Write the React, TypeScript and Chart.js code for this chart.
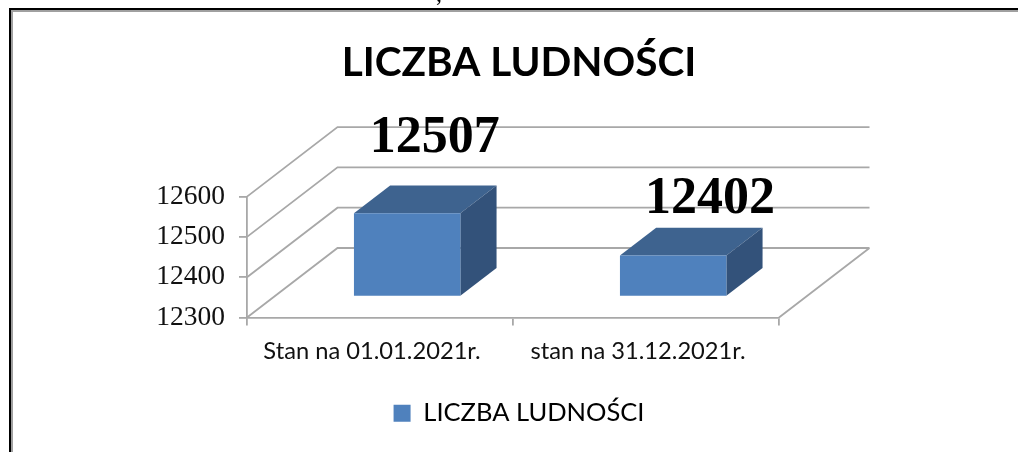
import React, { useEffect, useRef } from "react";
import { Chart, registerables } from "chart.js";

Chart.register(...registerables);

const categories = ["Stan na 01.01.2021r.", "stan na 31.12.2021r."];
const seriesName = "LICZBA LUDNOŚCI";
const values = [12507, 12402];
const axisTicks = [12300, 12400, 12500, 12600];

const DEPTH_X = 90.5;
const DEPTH_Y = 69.5;
const BAR_SHIFT = 0.3;
const BAR_DEPTH = 0.4;
const FRONT = "#4F81BD";
const TOP = "#3E638F";
const SIDE = "#33527A";
const GRID = "#A8A8A8";
const GRID_WIDTH = 1.8;
const LABEL_FONT = 'bold 52px "Liberation Serif"';
const LABEL_SHIFTS = [
  { x: 54.7, y: -81.6 },
  { x: 64, y: -63.5 },
];

const depthPlugin = {
  id: "depth",
  beforeDatasetsDraw(chart: any) {
    const { ctx, chartArea, scales } = chart;
    const { left, right, bottom } = chartArea;
    ctx.save();
    ctx.strokeStyle = GRID;
    ctx.lineWidth = GRID_WIDTH;
    ctx.beginPath();
    scales.y.ticks.forEach((t: any) => {
      const y = scales.y.getPixelForValue(t.value);
      ctx.moveTo(left, y);
      ctx.lineTo(left + DEPTH_X, y - DEPTH_Y);
      ctx.lineTo(right + DEPTH_X, y - DEPTH_Y);
    });
    ctx.moveTo(right, bottom);
    ctx.lineTo(right + DEPTH_X, bottom - DEPTH_Y);
    ctx.stroke();
    ctx.fillStyle = "#000";
    ctx.font = '24px "Liberation Serif"';
    ctx.textAlign = "center";
    ctx.textBaseline = "alphabetic";
    ctx.fillText(",", 439, 1);
    ctx.restore();
  },
  beforeDatasetDraw(chart: any, args: any) {
    const { ctx } = chart;
    const dx = DEPTH_X * BAR_SHIFT;
    const dy = DEPTH_Y * BAR_SHIFT;
    const bx = DEPTH_X * BAR_DEPTH;
    const by = DEPTH_Y * BAR_DEPTH;
    ctx.save();
    ctx.translate(dx, -dy);
    args.meta.data.forEach((bar: any) => {
      const l = bar.x - bar.width / 2;
      const r = bar.x + bar.width / 2;
      ctx.fillStyle = TOP;
      ctx.beginPath();
      ctx.moveTo(l, bar.y);
      ctx.lineTo(l + bx, bar.y - by);
      ctx.lineTo(r + bx, bar.y - by);
      ctx.lineTo(r, bar.y);
      ctx.closePath();
      ctx.fill();
      ctx.fillStyle = SIDE;
      ctx.beginPath();
      ctx.moveTo(r, bar.y);
      ctx.lineTo(r + bx, bar.y - by);
      ctx.lineTo(r + bx, bar.base - by);
      ctx.lineTo(r, bar.base);
      ctx.closePath();
      ctx.fill();
    });
  },
  afterDatasetDraw(chart: any, args: any) {
    const { ctx } = chart;
    ctx.restore();
    ctx.save();
    ctx.fillStyle = "#000";
    ctx.font = LABEL_FONT;
    ctx.textAlign = "center";
    ctx.textBaseline = "alphabetic";
    args.meta.data.forEach((bar: any, i: number) => {
      ctx.fillText(String(values[i]), bar.x + LABEL_SHIFTS[i].x, bar.y + LABEL_SHIFTS[i].y);
    });
    ctx.restore();
  },
};

export default function App() {
  const ref = useRef<HTMLCanvasElement>(null);
  useEffect(() => {
    document.body.style.margin = "0";
    document.body.style.overflow = "hidden";
    const chart = new Chart(ref.current!, {
      type: "bar",
      data: {
        labels: categories,
        datasets: [
          {
            label: seriesName,
            data: values,
            base: axisTicks[0],
            backgroundColor: FRONT,
            categoryPercentage: 1,
            barPercentage: 0.4,
            clip: false,
          },
        ],
      },
      plugins: [depthPlugin],
      options: {
        responsive: false,
        animation: false,
        layout: { padding: { top: 39, left: 20, right: 0, bottom: 16 } },
        plugins: {
          tooltip: { enabled: false },
          title: {
            display: true,
            text: seriesName,
            color: "#000",
            font: { family: "Lato", size: 40.5, weight: "bold" },
            padding: { top: 0, bottom: 109 },
          },
          legend: {
            position: "bottom",
            labels: {
              boxWidth: 17,
              boxHeight: 17,
              padding: 10,
              color: "#000",
              font: { family: "Lato", size: 25.5 },
            },
          },
        },
        scales: {
          x: {
            afterFit(s: any) {
              s.height = 73;
            },
            grid: { drawOnChartArea: false, color: GRID, lineWidth: GRID_WIDTH, tickLength: 8 },
            border: { color: GRID, width: GRID_WIDTH },
            ticks: {
              color: "#111",
              font: { family: "Lato", size: 23.7 },
              labelOffset: -8,
              maxRotation: 0,
              padding: 12,
            },
          },
          y: {
            min: axisTicks[0],
            max: axisTicks[axisTicks.length - 1],
            afterFit(s: any) {
              s.width = 227;
            },
            afterBuildTicks(s: any) {
              s.ticks = axisTicks.map((value) => ({ value }));
            },
            grid: { drawOnChartArea: false, color: GRID, lineWidth: GRID_WIDTH, tickLength: 8 },
            border: { color: GRID, width: GRID_WIDTH },
            ticks: {
              color: "#111",
              font: { family: "Liberation Serif", size: 27.5 },
              padding: 14,
              callback: (v: number) => String(v),
            },
          },
          spacer: {
            position: "right",
            afterFit(s: any) {
              s.width = 239;
            },
            grid: { display: false },
            border: { display: false },
            ticks: { display: false },
          },
        },
      },
    } as any);
    return () => chart.destroy();
  }, []);
  return (
    <div style={{ position: "relative", width: 1018, height: 452, overflow: "hidden" }}>
      <canvas ref={ref} width={1018} height={452} style={{ position: "absolute", left: 0, top: 0 }} />
      <div
        style={{
          position: "absolute",
          left: 9,
          top: 8,
          width: 1100,
          height: 500,
          borderTop: "2px solid #000",
          borderLeft: "2px solid #000",
        }}
      >
        <div
          style={{
            position: "absolute",
            left: 0,
            top: 0,
            width: 1100,
            height: 500,
            borderTop: "2px solid #A0A0A0",
            borderLeft: "2px solid #A0A0A0",
          }}
        />
      </div>
    </div>
  );
}
